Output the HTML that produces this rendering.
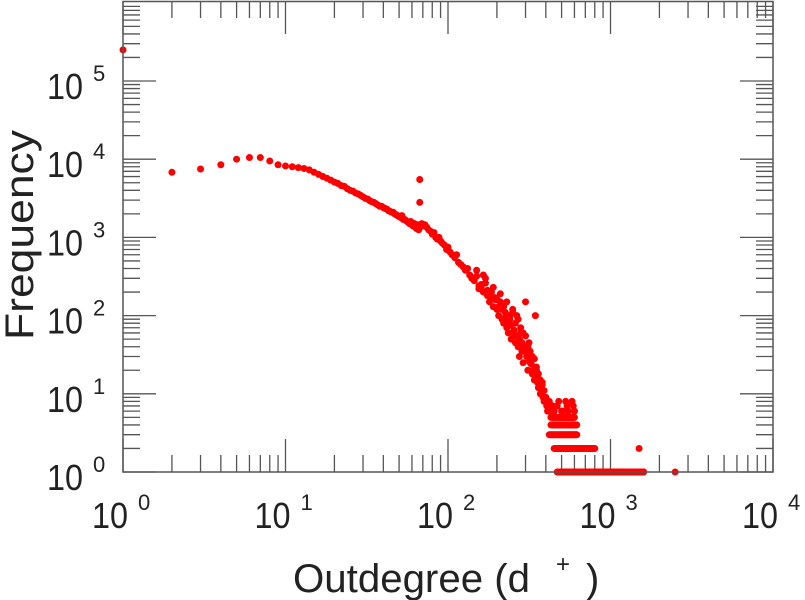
<!DOCTYPE html>
<html><head><meta charset="utf-8"><style>
html,body{margin:0;padding:0;background:#fff;}
svg{display:block;font-family:"Liberation Sans",sans-serif;}
</style></head><body>
<svg id="chart" width="805" height="600" viewBox="0 0 805 600" xmlns="http://www.w3.org/2000/svg">
<g id="axes"></g>
<g id="points"></g>
<rect x="123" y="1.5" width="650" height="470.5" fill="none" stroke="#555" stroke-width="1.5"/>
<text transform="translate(33,340) rotate(-90)" font-size="40" fill="#222" textLength="210" lengthAdjust="spacingAndGlyphs">Frequency</text>
<text x="293" y="592" font-size="40" fill="#222"><tspan textLength="237" lengthAdjust="spacingAndGlyphs">Outdegree (d</tspan><tspan font-size="24" x="556" y="572">+</tspan><tspan font-size="40" x="586" y="592">)</tspan></text>
</svg>
<script>
const xTickExps = [0, 1, 2, 3, 4];
const yTickExps = [0, 1, 2, 3, 4, 5];
const degrees = [1,2,3,4,5,6,7,8,9,10,11,12,
13,14,15,16,17,18,19,20,
21,22,23,24,25,26,27,28,29,30,
31,32,33,34,35,36,37,38,39,40,
41,42,43,44,45,46,47,48,49,50,
51,52,53,54,55,56,57,58,59,60,
61,62,63,64,65,66,67,67,69,70,
72,74,76,78,80,82,84,86,88,90,92,95,98,100,103,106,110,113,116,120,124,128,132,136,140,145,150,155,160,165,170,175,180,185,190,195,200,205,210,215,220,225,230,235,240,245,250,255,260,265,270,275,280,285,290,295,300,305,310,315,320,330,340,345,350,360,370,380,390,400,410,420,430,440,450,460,480,500,520,540,560,580,600,1500,2500,
150,160,170,180,190,200,210,220,230,240,250,260,270,280,290,300,310,320,330,340,350,360,370,380,390,400,410,420,430,440,
155,165,175,185,195,205,215,225,235,245,255,265,275,285,295,305,315,325,335,345,355,365,375,385,395,405,415,425,435,445,470,490,510,530,550,570,590];
const freqs = [250000,6800,7500,8500,10000,10500,10500,9500,8500,8200,8000,7800,
7600,7300,6800,6400,6000,5700,5400,5100,
4900,4600,4500,4200,4000,3900,3700,3600,3450,3300,
3150,3100,2950,2850,2800,2700,2600,2500,2500,2400,
2350,2300,2200,2150,2100,2100,2000,1950,1900,1850,
1800,1900,1700,1700,1650,1600,1550,1500,1600,1450,
1400,1500,1350,1300,1450,1250,5500,2800,1500,1400,
1450,1350,1250,1200,1100,1150,1000,950,1000,900,850,800,700,750,650,600,550,600,480,450,420,380,400,330,300,280,320,240,230,200,260,180,150,200,130,170,120,100,150,90,80,110,70,60,90,50,120,55,45,100,40,30,60,35,25,40,150,30,20,45,25,18,15,100,20,12,10,14,8,9,6,8,5,7,6,5,8,6,5,7,5,8,6,2,1,
380,250,300,200,230,160,190,130,150,100,110,80,90,70,60,55,40,35,30,28,22,18,15,13,11,9,7,6,7,6,
220,330,210,170,160,130,120,95,80,75,65,55,50,45,38,32,27,24,20,17,14,12,11,9,8,7,6,6,5,6,7,5,6,8,6,5,7];
const bandLevels = [5, 4, 3, 2, 1];
const bandStarts = [440, 430, 420, 450, 470];
const bandEnds = [600, 620, 620, 800, 1600];

const X0 = 123, XD = 162.5, Y0 = 472, YD = 78.2;
const sx = v => X0 + Math.log10(v) * XD;
const sy = v => Y0 - Math.log10(v) * YD;
const NS = "http://www.w3.org/2000/svg";
const axes = document.getElementById('axes');
const pts = document.getElementById('points');
function line(x1,y1,x2,y2,name){
  const l = document.createElementNS(NS,'line');
  l.setAttribute('x1',x1);l.setAttribute('y1',y1);l.setAttribute('x2',x2);l.setAttribute('y2',y2);
  l.setAttribute('stroke','#555');l.setAttribute('stroke-width','1.3');
  
  
  axes.appendChild(l);
}
function label(x,y,e,name){
  const t = document.createElementNS(NS,'text');
  t.setAttribute('font-size','36');t.setAttribute('fill','#222');
  
  
  const a = document.createElementNS(NS,'tspan'); a.textContent='10';
  a.setAttribute('x',x); a.setAttribute('y',y);
  a.setAttribute('textLength','36'); a.setAttribute('lengthAdjust','spacingAndGlyphs');
  const b = document.createElementNS(NS,'tspan'); b.textContent=String(e);
  b.setAttribute('font-size','22'); b.setAttribute('x',x+46); b.setAttribute('y',y-18);
  t.appendChild(a);t.appendChild(b);
  axes.appendChild(t);
}
xTickExps.forEach(e=>{
  const base = Math.pow(10,e);
  const x = sx(base);
  line(x,Y0,x,Y0-33,'x-major-tick');
  line(x,1.5,x,34,'x-major-tick-top');
  label(x-31,528,e,'x-tick-label');
  if(e<4){ for(let k=2;k<=9;k++){ const xm=sx(base*k);
    line(xm,Y0,xm,Y0-17,'x-minor-tick'); line(xm,1.5,xm,18,'x-minor-tick-top'); } }
});
yTickExps.forEach(e=>{
  const base = Math.pow(10,e);
  const y = sy(base);
  line(X0,y,X0+33,y,'y-major-tick');
  line(773,y,740,y,'y-major-tick-right');
  label(47,y+18,e,'y-tick-label');
  for(let k=2;k<=9;k++){ const ym=sy(base*k); if(ym<1.5) continue;
    line(X0,ym,X0+17,ym,'y-minor-tick'); line(773,ym,756,ym,'y-minor-tick-right'); }
});
function dot(d,f){
  const c = document.createElementNS(NS,'circle');
  c.setAttribute('cx',sx(d));c.setAttribute('cy',sy(f));c.setAttribute('r','3.5');c.setAttribute('fill','#ff0000');
  
  
  pts.appendChild(c);
}
degrees.forEach((d,i)=>dot(d,freqs[i]));
bandLevels.forEach((lv,i)=>{ for(let d=bandStarts[i]; d<=bandEnds[i]; d+=5) dot(d,lv); });
</script>
</body></html>
